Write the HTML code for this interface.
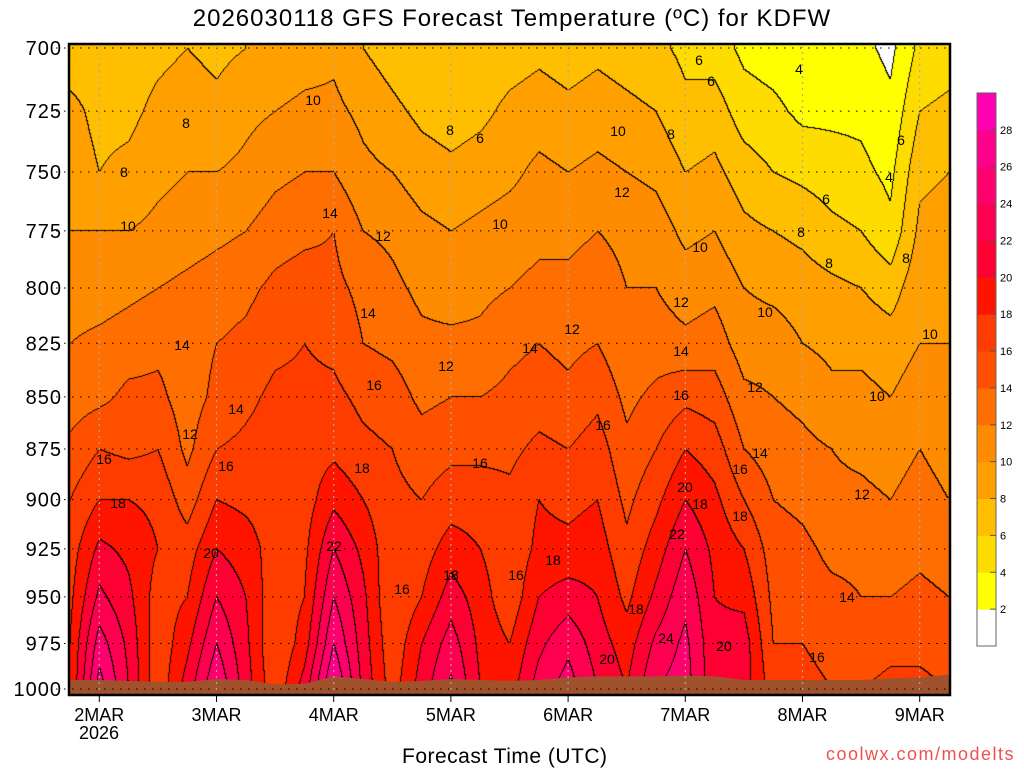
<!DOCTYPE html>
<html><head><meta charset="utf-8"><style>
body{margin:0;background:#fff;width:1024px;height:768px;overflow:hidden;position:relative;font-family:"Liberation Sans",sans-serif}
.t{position:absolute;white-space:nowrap;color:#000}
</style></head><body>
<div class="t" style="left:0;width:1024px;text-align:center;top:5px;font-size:24px;letter-spacing:1px">2026030118 GFS Forecast Temperature (ºC) for KDFW</div>
<svg id="chart" width="1024" height="768" style="position:absolute;left:0;top:0">
<foreignObject x="70" y="45" width="879" height="649"><canvas id="cv" xmlns="http://www.w3.org/1999/xhtml" width="879" height="649"></canvas></foreignObject>
<g id="grid"></g><g id="labels"></g><g id="axes"></g><g id="cbar"></g>
<rect x="69" y="44" width="881" height="651" fill="none" stroke="#000" stroke-width="2.5"/>
</svg>
<div class="t" style="left:402px;top:745px;font-size:21px;letter-spacing:0.5px">Forecast Time (UTC)</div>
<div class="t" style="left:826px;top:744px;font-size:18px;color:#f05050;letter-spacing:1.5px">coolwx.com/modelts</div>
<script>
const levels=[700,725,750,775,800,825,850,875,900,925,950,975,1000];
const times=["01/18","02/00","02/06","02/12","02/18","03/00","03/06","03/12","03/18","04/00","04/06","04/12","04/18","05/00","05/06","05/12","05/18","06/00","06/06","06/12","06/18","07/00","07/06","07/12","07/18","08/00","08/06","08/12","08/18","09/00","09/06"];
const dayLabels=["2MAR","3MAR","4MAR","5MAR","6MAR","7MAR","8MAR","9MAR"];
const cbarTicks=[2,4,6,8,10,12,14,16,18,20,22,24,26,28];
// temperature profiles per time (700 -> 1000 hPa)
const T0=[7,8.5,9,10,11,12,13,14.5,16,17,17.5,18,18];
const T1=[7,7.5,8,10,11,12.5,13.5,16,18,20.5,22.5,25,27];
const T2=[7,7.5,8.5,10,11.5,13,14.5,15.5,18,19.5,20.5,21.5,22];
const T3=[7.5,8.5,9.5,10.5,12,13.5,14.5,16,17.5,18,17,16.5,16.5];
const T4=[8,9,10,11,12.5,13,13,13.5,15,17,18,19.5,21];
const T5=[7.5,8.5,10,11.5,13,14,14.5,16,18,20,22,24,26];
const T6=[8,9.5,10.5,12,13.5,14.5,15.5,16.5,17.5,19,20,20.5,21];
const T7=[8.5,10,11.5,13,14.5,15.5,16.5,17,17,17,16.5,16,16.5];
const T8=[9,10.5,12,13.5,15,16,16.5,17,17,17.5,18,19,21];
const T9=[9.5,10.5,12,14,14.5,15.5,16.5,17.5,19.5,22,24,26,28.5];
const T10=[8,9.5,10.5,12,13.5,14,15.5,16.5,18,19.5,20.5,21,21.5];
const T11=[7,8.5,10,11.5,12.5,13.5,15,16,16.5,16.5,16,16.5,17];
const T12=[6,7.5,9,10.5,11.5,12.5,13.5,15,16,17,18,20,21];
const T13=[6,7,8.5,10,11,12.5,14,15.5,17,19,21,23,24.5];
const T14=[6.5,7.5,9,10.5,11.5,12.5,14,15.5,17,18,19,19.5,20];
const T15=[7,8.5,9.5,11,12,13.5,14.5,15.5,16.5,16.5,16.5,18,19];
const T16=[7.5,9,10.5,11.5,12.5,14,15,16.5,18,18.5,20,21.5,23];
const T17=[7,8.5,10,11.5,12.5,13.5,14.5,16,17.5,18.5,21,23.5,25];
const T18=[7.5,9,10.5,12,13,14,15.5,17,18,19,20,21,22];
const T19=[7,8.5,10,11.5,12,12.5,13.5,14.5,15.5,16.5,17.5,19,20];
const T20=[6.5,8,9.5,11,12,13,14.5,16,17.5,19,20.5,22.5,24];
const T21=[5.5,6.5,8,9.5,11,12.5,15.5,18,20,22,23.5,24.5,25];
const T22=[5,7,8.5,10,11.5,13,15,17,18.5,19.5,20,20.5,20.5];
const T23=[3.5,5,7,8.5,10,11,12.5,14,16,18,19.5,21,21];
const T24=[3,4.5,6,8,9.5,11,12,13,14,15,15.5,16,17];
const T25=[2.5,3.5,5.5,7.5,9,10,11.5,12.5,13.5,14.5,15,16,16.5];
const T26=[2.5,3.5,5,6.5,8.5,9.5,10.5,12,12.5,13.5,14.5,15.5,16];
const T27=[2.5,3.5,4.5,6,8,9.5,10.5,11.5,12.5,13.5,14,15,16];
const T28=[1.5,2.5,3.5,4.5,7,9,10,11,12,13,14,15.5,16.5];
const T29=[4.5,6,7.5,8.5,9.5,10,11,12,13,13.5,14.5,15.5,16.5];
const T30=[5,6.5,8,9,9.5,10,10.5,11,12,13,14,15,16];
const temps=[T0,T1,T2,T3,T4,T5,T6,T7,T8,T9,T10,T11,T12,T13,T14,T15,T16,T17,T18,T19,T20,T21,T22,T23,T24,T25,T26,T27,T28,T29,T30];
const surfacePressure=[995,995,995.5,996,996,994.5,995,997.5,997,993,994.5,996,995.5,994.5,995,995.5,995,993.5,993,993,993,992.5,993,995,995,995,995,995,994,993.5,992];

const X0=70,X1=949,Y0=48,Y1=689,DAYW=117.2;
function xOfT(i){return X0+(X1-X0)*i/(times.length-1);}
function yOfP(p){return Y0+(Math.log(p/700)/Math.log(1000/700))*(Y1-Y0);}
const colors=['#ffffff','#ffff00','#ffdc00','#ffbe00','#ffa000','#ff8c00','#ff6e00','#ff5000','#ff3c00','#ff1400','#ff0032','#ff0050','#ff006e','#ff008c','#ff00b4'];
function band(t){return Math.max(0,Math.min(14,Math.floor(t/2)));}
function hex(c){return [parseInt(c.substr(1,2),16),parseInt(c.substr(3,2),16),parseInt(c.substr(5,2),16)];}
const rgb=colors.map(hex);
const ly=levels.map(yOfP);

const cv=document.getElementById('cv'),ctx=cv.getContext('2d');
const W=cv.width,H=cv.height,img=ctx.createImageData(W,H),B=new Int8Array(W*H);
for(let py=0;py<H;py++){
  const y=45+py;let k=0;while(k<levels.length-2&&y>ly[k+1])k++;
  let fy=(y-ly[k])/(ly[k+1]-ly[k]);fy=Math.max(0,Math.min(1,fy));
  for(let px=0;px<W;px++){
    const x=70+px;let fi=(x-X0)/(X1-X0)*(times.length-1);fi=Math.max(0,Math.min(times.length-1.0001,fi));
    const i=Math.floor(fi),fx=fi-i;
    const a=temps[i][k]*(1-fy)+temps[i][k+1]*fy,b=temps[i+1][k]*(1-fy)+temps[i+1][k+1]*fy;
    B[py*W+px]=band(a*(1-fx)+b*fx);
  }
}
for(let py=0;py<H;py++)for(let px=0;px<W;px++){
  const bd=B[py*W+px];let c=rgb[bd];
  if((px<W-1&&B[py*W+px+1]!==bd)||(py<H-1&&B[(py+1)*W+px]!==bd))c=[0,0,0];
  const o=(py*W+px)*4;img.data[o]=c[0];img.data[o+1]=c[1];img.data[o+2]=c[2];img.data[o+3]=255;
}
ctx.putImageData(img,0,0);

const NS='http://www.w3.org/2000/svg';
function el(tag,attrs,parent){const e=document.createElementNS(NS,tag);for(const k in attrs)e.setAttribute(k,attrs[k]);parent.appendChild(e);return e;}
const grid=document.getElementById('grid'),axes=document.getElementById('axes'),cbar=document.getElementById('cbar');

let d='M'+X0+','+694;
surfacePressure.forEach((p,i)=>{d+=' L'+xOfT(i).toFixed(1)+','+yOfP(p).toFixed(1);});
d+=' L'+X1+',694 Z';
const g=el('path',{d:d,fill:'#a0522d'},grid);



levels.forEach((p,k)=>{
  const y=yOfP(p);
  const l=el('line',{x1:56,x2:X1,y1:y,y2:y,stroke:'#000','stroke-width':1,'stroke-dasharray':'1.5,6.5'},grid);
  
  
  const t=el('text',{x:62,y:y+7,'text-anchor':'end','font-size':20,'font-family':'Liberation Sans, sans-serif','letter-spacing':'1'},axes);
  t.textContent=p;
  
  
});
dayLabels.forEach((lab,j)=>{
  const x=X0+29.3+j*DAYW;
  const l=el('line',{x1:x,x2:x,y1:46,y2:693,stroke:'#aaa','stroke-width':1.2,'stroke-dasharray':'2,4'},grid);
  
  
  const tk=el('line',{x1:x,x2:x,y1:695,y2:702,stroke:'#000','stroke-width':1},axes);
  
  
  const t=el('text',{x:x,y:721,'text-anchor':'middle','font-size':18,'font-family':'Liberation Sans, sans-serif'},axes);
  t.textContent=lab;
  
  
});
const yr=el('text',{x:99,y:739,'text-anchor':'middle','font-size':18,'font-family':'Liberation Sans, sans-serif'},axes);
yr.textContent='2026';



const cl=[[118,503,18],[104,459,16],[182,345,14],[190,434,12],[236,409,14],[226,466,16],[211,553,20],[334,546,22],[362,468,18],[374,385,16],[368,313,14],[383,236,12],[330,213,14],[313,100,10],[186,123,8],[124,172,8],[128,226,10],[402,589,16],[450,130,8],[480,138,6],[446,366,12],[500,224,10],[480,463,16],[451,575,18],[516,575,16],[553,560,18],[572,329,12],[530,348,14],[603,425,16],[622,192,12],[618,131,10],[671,134,8],[711,81,6],[799,69,4],[681,302,12],[681,351,14],[681,395,16],[685,487,20],[700,504,18],[677,534,22],[740,516,18],[740,469,16],[760,453,14],[755,387,12],[765,312,10],[801,232,8],[826,199,6],[889,177,4],[901,140,6],[906,258,8],[930,334,10],[877,396,10],[862,494,12],[847,597,14],[817,657,16],[636,609,18],[607,659,20],[666,638,24],[724,646,20],[699,60,6],[829,263,8],[700,247,10]];
cl.forEach(c=>{
  const t=el('text',{x:c[0],y:c[1]+5,'text-anchor':'middle','font-size':14,'font-family':'Liberation Sans, sans-serif'},document.getElementById('labels'));
  t.textContent=c[2];
  
  
});

const CB0=646,CBH=36.87;
colors.forEach((c,b)=>{
  const r=el('rect',{x:977,y:CB0-(b+1)*CBH,width:19,height:CBH+0.5,fill:c},cbar);
  
  
});
const cbo=el('rect',{x:977,y:CB0-15*CBH,width:19,height:15*CBH,fill:'none',stroke:'#666','stroke-width':1},cbar);


cbarTicks.forEach(v=>{
  const y=CB0-(v/2)*CBH;
  const tk=el('line',{x1:990,x2:996,y1:y,y2:y,stroke:'#555'},cbar);
  
  
  const t=el('text',{x:1000,y:y+4,'font-size':11,'font-family':'Liberation Sans, sans-serif'},cbar);
  t.textContent=v;
  
  
});
</script>
</body></html>
